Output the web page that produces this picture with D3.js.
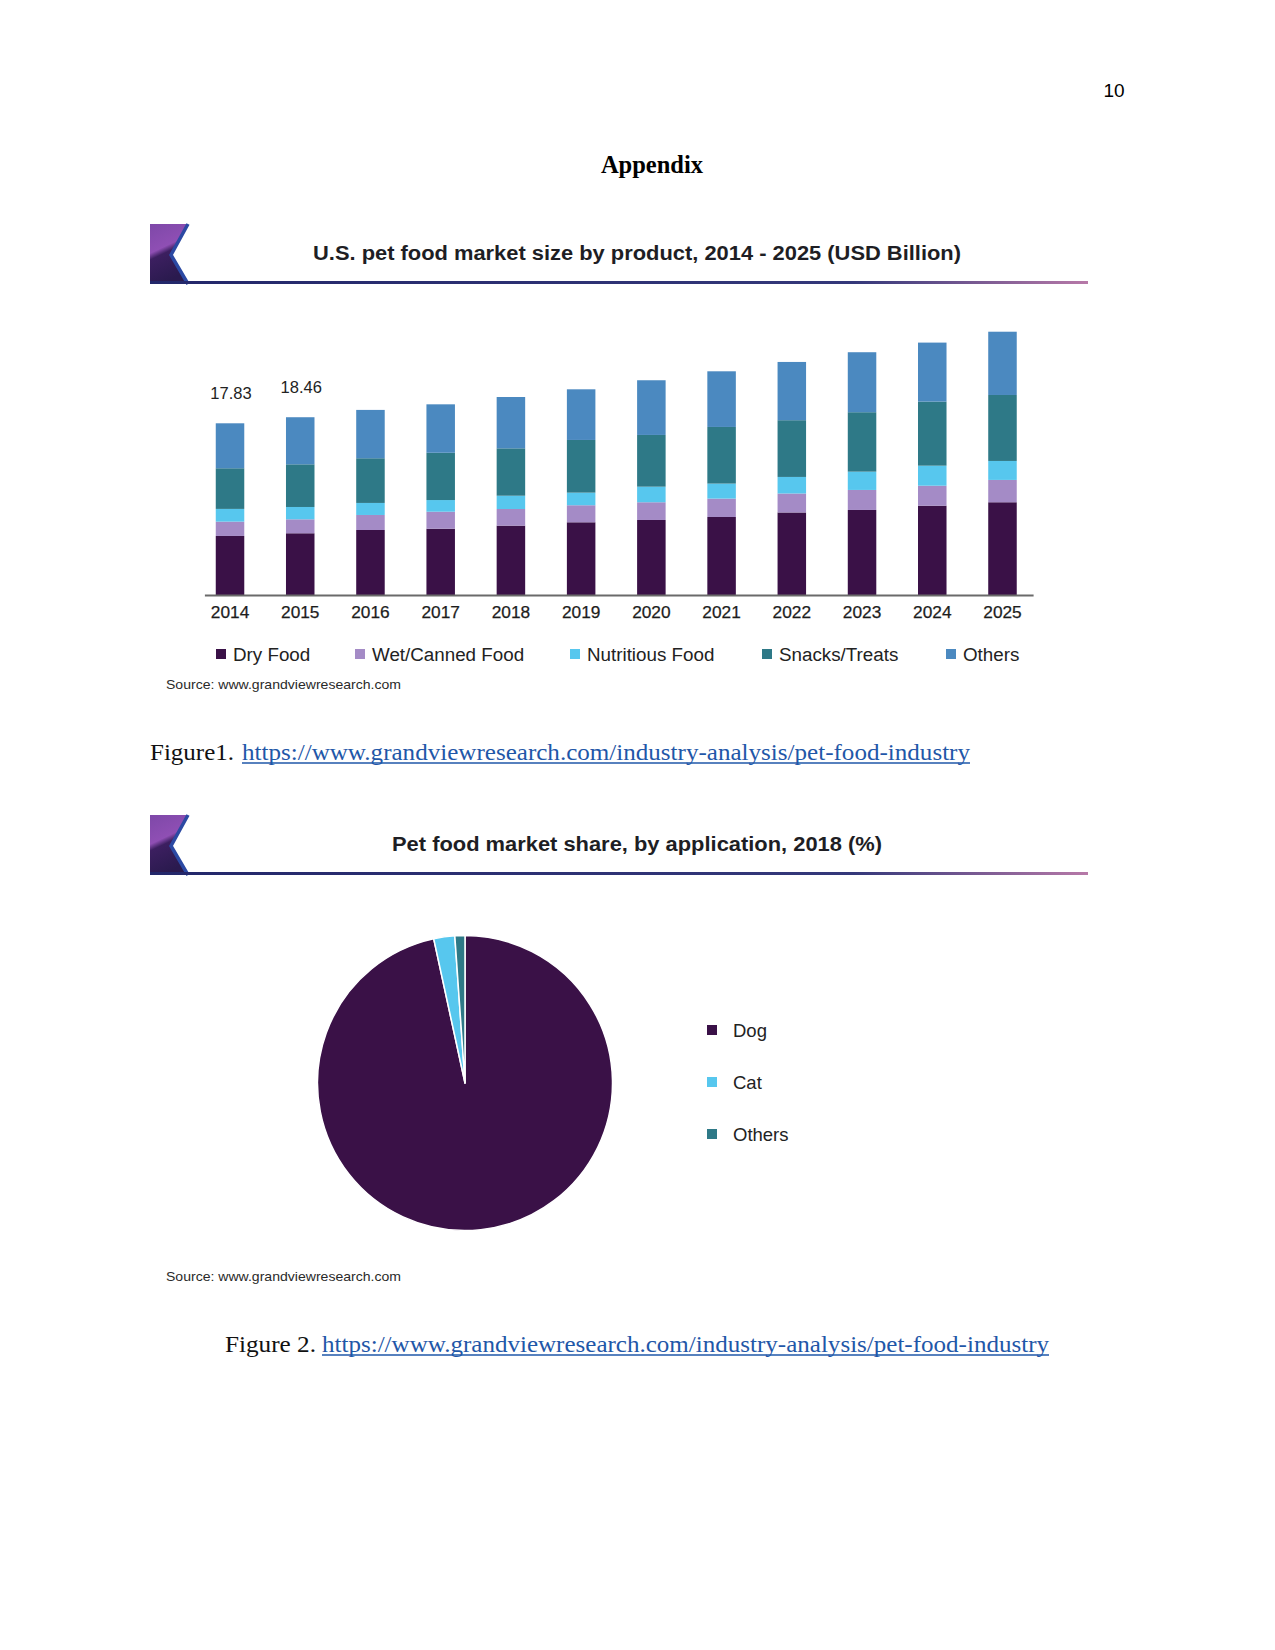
<!DOCTYPE html>
<html>
<head>
<meta charset="utf-8">
<script src="https://cdn.jsdelivr.net/npm/d3@7"></script>
<style>
  html, body { margin: 0; padding: 0; background: #fff; }
  svg { display: block; }
</style>
</head>
<body>
<svg id="page" width="1275" height="1650"></svg>
<script>
// ---------------- DATA ----------------
const years = ["2014","2015","2016","2017","2018","2019","2020","2021","2022","2023","2024","2025"];
const seriesNames = ["Dry Food","Wet/Canned Food","Nutritious Food","Snacks/Treats","Others"];
const dryFood    = [6.13, 6.41, 6.75, 6.88, 7.20, 7.55, 7.79, 8.10, 8.57, 8.83, 9.27, 9.63];
const wetFood    = [1.49, 1.45, 1.56, 1.77, 1.73, 1.77, 1.84, 1.91, 1.97, 2.08, 2.08, 2.32];
const nutritious = [1.32, 1.28, 1.25, 1.21, 1.38, 1.31, 1.62, 1.56, 1.72, 1.90, 2.08, 1.97];
const snacks     = [4.22, 4.43, 4.64, 4.91, 4.92, 5.47, 5.37, 5.88, 5.89, 6.17, 6.65, 6.85];
const others     = [4.67, 4.89, 5.02, 5.03, 5.33, 5.26, 5.68, 5.78, 6.05, 6.23, 6.13, 6.57];
const totalLabels = ["17.83", "18.46"]; // shown above 2014 and 2015

const pieCategories = ["Dog", "Cat", "Others"];
const pieValues     = [96.6, 2.3, 1.1];

const chart1Title = "U.S. pet food market size by product, 2014 - 2025 (USD Billion)";
const chart2Title = "Pet food market share, by application, 2018 (%)";
const sourceText  = "Source: www.grandviewresearch.com";
const linkText    = "https://www.grandviewresearch.com/industry-analysis/pet-food-industry";

// ---------------- STYLES ----------------
const barColors = ["#3a1147", "#a48bc6", "#57c7ee", "#2e7987", "#4b89c0"];
const pieColors = ["#3a1147", "#57c7ee", "#2e7987"];
const sansFont = "'Liberation Sans', Arial, sans-serif";
const serifFont = "'Liberation Serif', 'Times New Roman', serif";

const svg = d3.select("#page");
svg.append("rect").attr("width", 1275).attr("height", 1650).attr("fill", "#fff");

const defs = svg.append("defs");
const lg = defs.append("linearGradient").attr("id", "lineGrad")
  .attr("gradientUnits", "userSpaceOnUse").attr("x1", 150).attr("x2", 1088).attr("y1", 0).attr("y2", 0);
lg.append("stop").attr("offset", "0%").attr("stop-color", "#23276a");
lg.append("stop").attr("offset", "75%").attr("stop-color", "#34387a");
lg.append("stop").attr("offset", "100%").attr("stop-color", "#b779a8");
const pg = defs.append("linearGradient").attr("id", "logoGrad").attr("x1", "0%").attr("y1", "0%").attr("x2", "30%").attr("y2", "100%");
pg.append("stop").attr("offset", "0%").attr("stop-color", "#7e48a8");
pg.append("stop").attr("offset", "45%").attr("stop-color", "#8f4fb4");
pg.append("stop").attr("offset", "55%").attr("stop-color", "#3c1f60");
pg.append("stop").attr("offset", "100%").attr("stop-color", "#2a1a4e");

// ---------------- PAGE TEXT ----------------
svg.append("text").attr("x", 1114).attr("y", 97).attr("text-anchor", "middle")
  .attr("font-family", sansFont).attr("font-size", 19).attr("fill", "#000").text("10");

svg.append("text").attr("x", 652).attr("y", 173).attr("text-anchor", "middle")
  .attr("font-family", serifFont).attr("font-weight", "bold").attr("font-size", 24.5)
  .attr("fill", "#000").text("Appendix");

// ---------------- HEADER ----------------
function drawHeader(yTop, title, titleX0, titleW) {
  const g = svg.append("g").attr("transform", `translate(0,${yTop})`);
  const x0 = 150, x1 = 188, h = 60, apexX = 171, apexY = 31;
  g.append("path")
    .attr("d", `M${x0},0 L${x1},0 L${apexX},${apexY} L${x1},${h} L${x0},${h} Z`)
    .attr("fill", "url(#logoGrad)");
  g.append("path")
    .attr("d", `M${x1},0 L${apexX},${apexY} L${x1},${h}`)
    .attr("fill", "none").attr("stroke", "#2b49a3").attr("stroke-width", 3.5);
  g.append("line").attr("x1", x0).attr("x2", 1088).attr("y1", 58.5).attr("y2", 58.5)
    .attr("stroke", "url(#lineGrad)").attr("stroke-width", 3);
  g.append("text").attr("x", titleX0).attr("y", 35.5)
    .attr("font-family", sansFont).attr("font-weight", "bold").attr("font-size", 19.5)
    .attr("fill", "#1e1e24")
    .attr("textLength", titleW).attr("lengthAdjust", "spacingAndGlyphs")
    .text(title);
}
drawHeader(224, chart1Title, 313, 648);
drawHeader(815, chart2Title, 392, 490);

// ---------------- BAR CHART ----------------
const seriesArrays = [dryFood, wetFood, nutritious, snacks, others];
const rows = years.map((yr, i) => {
  const r = { year: yr };
  seriesNames.forEach((s, k) => r[s] = seriesArrays[k][i]);
  return r;
});
const stacked = d3.stack().keys(seriesNames)(rows);

const baseY = 595;
const x = d3.scaleBand().domain(years).range([194.9, 1037.6]).paddingInner(0.594).paddingOuter(0.297);
const y = d3.scaleLinear().domain([0, 30]).range([baseY, baseY - 288.9]);

const barG = svg.append("g");
barG.selectAll("g.series").data(stacked).join("g")
  .attr("class", "series")
  .attr("fill", (d, k) => barColors[k])
  .selectAll("rect").data(d => d).join("rect")
  .attr("x", d => x(d.data.year))
  .attr("width", x.bandwidth())
  .attr("y", d => y(d[1]))
  .attr("height", d => y(d[0]) - y(d[1]));

// axis
const axisG = svg.append("g").attr("transform", `translate(0,${baseY})`)
  .call(d3.axisBottom(x).tickSize(0).tickPadding(11));
axisG.select(".domain").remove();
axisG.selectAll("text").attr("font-family", sansFont).attr("font-size", 17.3)
  .attr("fill", "#1d1d1d").attr("stroke", "#1d1d1d").attr("stroke-width", 0.25);
svg.append("line").attr("x1", x.range()[0] + 10).attr("x2", x.range()[1] - 4)
  .attr("y1", baseY + 0.5).attr("y2", baseY + 0.5)
  .attr("stroke", "#6a6a6a").attr("stroke-width", 2);

// total labels
const totals = stacked[stacked.length - 1];
svg.selectAll("text.total").data(totalLabels).join("text")
  .attr("class", "total")
  .attr("x", (d, i) => x(years[i]) + x.bandwidth() / 2 + 1)
  .attr("y", (d, i) => y(totals[i][1]) - 24)
  .attr("text-anchor", "middle")
  .attr("font-family", sansFont).attr("font-size", 16.5).attr("fill", "#222")
  .text(d => d);

// legend
const legendX = [216, 355, 570, 762, 946];
const legG = svg.append("g").attr("transform", "translate(0,654)");
const legItems = legG.selectAll("g").data(seriesNames).join("g")
  .attr("transform", (d, i) => `translate(${legendX[i]},0)`);
legItems.append("rect").attr("x", 0).attr("y", -5).attr("width", 10).attr("height", 10)
  .attr("fill", (d, i) => barColors[i]);
legItems.append("text").attr("x", 17).attr("y", 6.5)
  .attr("font-family", sansFont).attr("font-size", 18.8).attr("fill", "#222")
  .text(d => d);

svg.append("text").attr("x", 166).attr("y", 689)
  .attr("font-family", sansFont).attr("font-size", 13).attr("fill", "#2a2a2a")
  .attr("textLength", 235).attr("lengthAdjust", "spacingAndGlyphs")
  .text(sourceText);

// ---------------- CAPTIONS ----------------
function caption(yBase, label, labelX, labelW, linkX0, linkX1) {
  svg.append("text").attr("x", labelX).attr("y", yBase)
    .attr("font-family", serifFont).attr("font-size", 23).attr("fill", "#111")
    .attr("textLength", labelW).attr("lengthAdjust", "spacingAndGlyphs")
    .text(label);
  svg.append("text").attr("x", linkX0).attr("y", yBase)
    .attr("font-family", serifFont).attr("font-size", 23).attr("fill", "#1f57a8")
    .attr("textLength", linkX1 - linkX0).attr("lengthAdjust", "spacingAndGlyphs")
    .text(linkText);
  svg.append("line").attr("x1", linkX0).attr("x2", linkX1).attr("y1", yBase + 3).attr("y2", yBase + 3)
    .attr("stroke", "#1f57a8").attr("stroke-width", 1.3);
}
caption(760, "Figure1.", 150, 84, 242, 970);
caption(1352, "Figure 2.", 225, 91, 322, 1049);

// ---------------- PIE ----------------
const pieData = d3.pie().sort(null).value(d => d.v)(pieCategories.map((c, i) => ({ c, v: pieValues[i] })));
const arc = d3.arc().innerRadius(0).outerRadius(147.5);
const pieG = svg.append("g").attr("transform", "translate(465,1083)");
pieG.selectAll("path").data(pieData).join("path")
  .attr("d", arc)
  .attr("fill", (d, i) => pieColors[i])
  .attr("stroke", "#fff").attr("stroke-width", 1.5).attr("stroke-linejoin", "round");

const pieLeg = svg.append("g").attr("transform", "translate(707,1030)");
const pItems = pieLeg.selectAll("g").data(pieCategories).join("g")
  .attr("transform", (d, i) => `translate(0,${i * 52})`);
pItems.append("rect").attr("x", 0).attr("y", -5).attr("width", 10).attr("height", 10)
  .attr("fill", (d, i) => pieColors[i]);
pItems.append("text").attr("x", 26).attr("y", 6.5)
  .attr("font-family", sansFont).attr("font-size", 18.5).attr("fill", "#222")
  .text(d => d);

svg.append("text").attr("x", 166).attr("y", 1281)
  .attr("font-family", sansFont).attr("font-size", 13).attr("fill", "#2a2a2a")
  .attr("textLength", 235).attr("lengthAdjust", "spacingAndGlyphs")
  .text(sourceText);
</script>
</body>
</html>
